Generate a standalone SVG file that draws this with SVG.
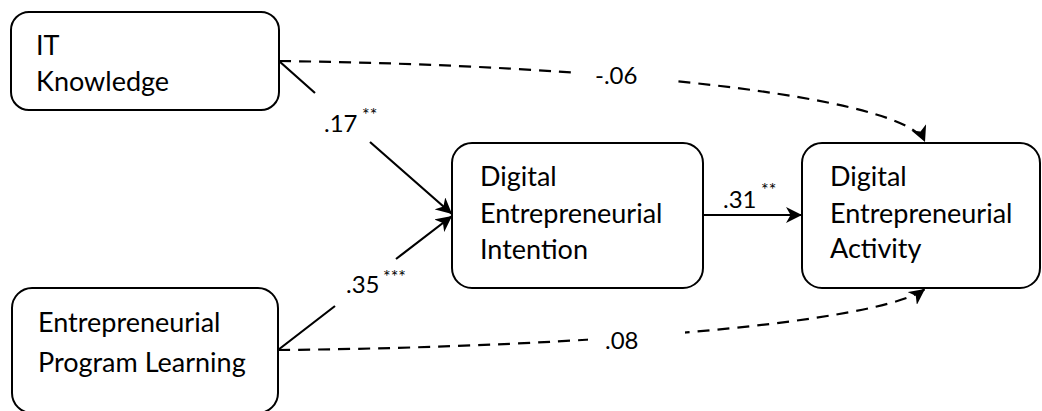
<svg xmlns="http://www.w3.org/2000/svg" width="1042" height="411" viewBox="0 0 1042 411">
  <style>
    .box { fill: #ffffff; stroke: #000000; stroke-width: 2; }
    .txt { font-family: Lato, "Open Sans", "Liberation Sans", sans-serif; font-size: 27px; fill: #000000; }
    .lbl { font-family: Lato, "Open Sans", "Liberation Sans", sans-serif; font-size: 24px; fill: #000000; }
    .sup { font-family: Lato, "Open Sans", "Liberation Sans", sans-serif; font-size: 18px; fill: #000000; }
    .solid { fill: none; stroke: #000000; stroke-width: 2.2; }
    .dash { fill: none; stroke: #000000; stroke-width: 2.2; stroke-dasharray: 12 8; }
    .lblbg { fill: #ffffff; stroke: none; }
  </style>
  <defs>
    <marker id="arrow" markerUnits="userSpaceOnUse" markerWidth="16" markerHeight="16" viewBox="0 0 14 14" refX="14" refY="7" orient="auto">
      <path d="M0,0 L14,7 L0,14 L4,7 Z" fill="#000000"/>
    </marker>
  </defs>

  <rect width="1042" height="411" fill="#ffffff"/>

  <!-- paths between the constructs -->
  <g id="connectors">
    <!-- IT Knowledge -> Digital Entrepreneurial Activity (not significant) -->
    <path class="dash" d="M279,61 C600,65 905,95 925,142" marker-end="url(#arrow)"/>
    <!-- Entrepreneurial Program Learning -> Digital Entrepreneurial Activity (not significant) -->
    <path class="dash" d="M278,350 C600,347 880,322 925,289" marker-end="url(#arrow)"/>
    <!-- IT Knowledge -> Intention, broken around its coefficient -->
    <path class="solid" d="M279,61 L315,93 M370,142 L452,214" marker-end="url(#arrow)"/>
    <!-- Program Learning -> Intention, broken around its coefficient -->
    <path class="solid" d="M278,350 L335,306 M396,259 L452,216" marker-end="url(#arrow)"/>
    <!-- Intention -> Activity -->
    <path class="solid" d="M703,215 L802,215" marker-end="url(#arrow)"/>
  </g>

  <!-- path coefficients -->
  <g id="labels">
    <rect class="lblbg" x="571" y="55" width="104" height="40"/>
    <text class="lbl" x="595" y="84">-.06</text>
    <rect class="lblbg" x="588" y="322" width="97" height="36"/>
    <text class="lbl" x="605" y="349">.08</text>
    <text class="lbl" x="324" y="132">.17</text>
    <text class="sup" x="362" y="121">**</text>
    <text class="lbl" x="346" y="293">.35</text>
    <text class="sup" x="383" y="283">***</text>
    <text class="lbl" x="723" y="208">.31</text>
    <text class="sup" x="761" y="196">**</text>
  </g>

  <g id="node-it-knowledge">
    <rect class="box" x="11" y="12" width="268" height="98" rx="18" ry="18"/>
    <text class="txt" x="36" y="55">IT</text>
    <text class="txt" x="36" y="91">Knowledge</text>
  </g>

  <g id="node-program-learning">
    <rect class="box" x="12" y="288" width="266" height="125" rx="20" ry="20"/>
    <text class="txt" x="38" y="332">Entrepreneurial</text>
    <text class="txt" x="38" y="372">Program Learning</text>
  </g>

  <g id="node-intention">
    <rect class="box" x="452" y="143" width="251" height="145" rx="20" ry="20"/>
    <text class="txt" x="480" y="186">Digital</text>
    <text class="txt" x="480" y="223">Entrepreneurial</text>
    <text class="txt" x="480" y="259">Intention</text>
  </g>

  <g id="node-activity">
    <rect class="box" x="802" y="143" width="238" height="145" rx="20" ry="20"/>
    <text class="txt" x="830" y="186">Digital</text>
    <text class="txt" x="830" y="223">Entrepreneurial</text>
    <text class="txt" x="830" y="258">Activity</text>
  </g>
</svg>
